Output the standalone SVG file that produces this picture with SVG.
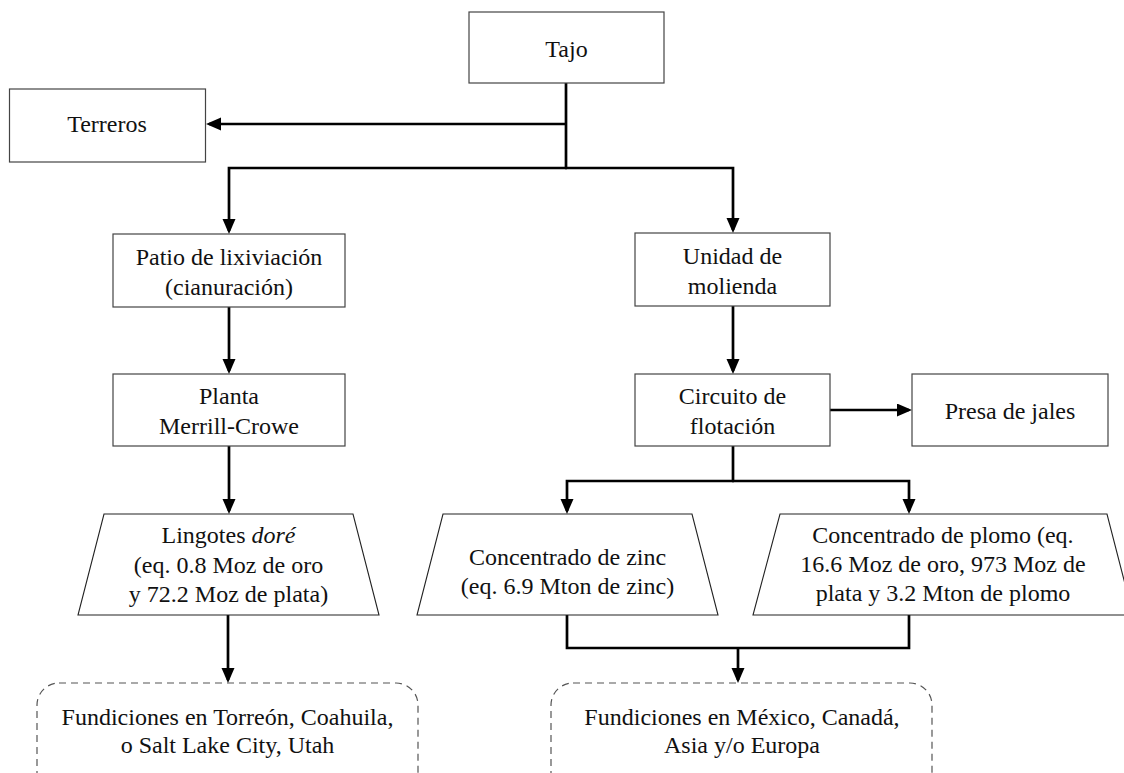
<svg xmlns="http://www.w3.org/2000/svg" width="1124" height="773" viewBox="0 0 1124 773">
<style>
.box{fill:#fff;stroke:#444;stroke-width:1.2}
.trap{fill:#fff;stroke:#222;stroke-width:1.1}
.dash{fill:#fff;stroke:#555;stroke-width:1.2;stroke-dasharray:7 5}
.t{font-family:"Liberation Serif","Times New Roman",serif;font-size:24px;fill:#111;text-anchor:middle}
.c{fill:none;stroke:#000;stroke-width:2.7}
</style>
<defs>
<marker id="ah" markerUnits="userSpaceOnUse" markerWidth="16" markerHeight="14" refX="12" refY="6.5" orient="auto">
<path d="M0,0 L15,6.5 L0,13 z" fill="#000"/>
</marker>
</defs>
<rect width="1124" height="773" fill="#fff"/>
<g id="connectors">
<path class="c" d="M566,83 V168"/>
<path class="c" d="M566,124 H209" marker-end="url(#ah)"/>
<path class="c" d="M567,168 H229 V231" marker-end="url(#ah)"/>
<path class="c" d="M565,168 H733 V230" marker-end="url(#ah)"/>
<path class="c" d="M229,307 V371" marker-end="url(#ah)"/>
<path class="c" d="M229,446 V511" marker-end="url(#ah)"/>
<path class="c" d="M228,615 V680" marker-end="url(#ah)"/>
<path class="c" d="M733,306 V371" marker-end="url(#ah)"/>
<path class="c" d="M830,410 H909" marker-end="url(#ah)"/>
<path class="c" d="M733,446 V481"/>
<path class="c" d="M734,481 H567 V511" marker-end="url(#ah)"/>
<path class="c" d="M732,481 H909 V511" marker-end="url(#ah)"/>
<path class="c" d="M567,615 V648 H909 V615"/>
<path class="c" d="M738,648 V680" marker-end="url(#ah)"/>
</g>
<g id="tajo">
<rect class="box" x="469" y="12" width="195" height="71"/>
<text class="t" x="566.5" y="57">Tajo</text>
</g>
<g id="terreros">
<rect class="box" x="9.5" y="89" width="196" height="73"/>
<text class="t" x="107" y="132">Terreros</text>
</g>
<g id="patio">
<rect class="box" x="113" y="234" width="232" height="73"/>
<text class="t" x="229" y="265">Patio de lixiviación</text>
<text class="t" x="229" y="295">(cianuración)</text>
</g>
<g id="unidad">
<rect class="box" x="635" y="233" width="195" height="73"/>
<text class="t" x="732.5" y="264">Unidad de</text>
<text class="t" x="732.5" y="294">molienda</text>
</g>
<g id="planta">
<rect class="box" x="113" y="374" width="232" height="72"/>
<text class="t" x="229" y="404">Planta</text>
<text class="t" x="229" y="434">Merrill-Crowe</text>
</g>
<g id="circuito">
<rect class="box" x="635" y="374" width="195" height="72"/>
<text class="t" x="732.5" y="404">Circuito de</text>
<text class="t" x="732.5" y="434">flotación</text>
</g>
<g id="presa">
<rect class="box" x="912" y="374" width="196" height="72"/>
<text class="t" x="1010" y="419">Presa de jales</text>
</g>
<g id="lingotes">
<polygon class="trap" points="104,514 353,514 379,615 78,615"/>
<text class="t" x="228.5" y="543">Lingotes <tspan font-style="italic">doré</tspan></text>
<text class="t" x="228.5" y="573">(eq. 0.8 Moz de oro</text>
<text class="t" x="228.5" y="602">y 72.2 Moz de plata)</text>
</g>
<g id="zinc">
<polygon class="trap" points="443,514 692,514 718,615 417,615"/>
<text class="t" x="567.5" y="565">Concentrado de zinc</text>
<text class="t" x="567.5" y="594">(eq. 6.9 Mton de zinc)</text>
</g>
<g id="plomo">
<polygon class="trap" points="780,514 1107,514 1133,615 753,615"/>
<text class="t" x="943" y="543">Concentrado de plomo (eq.</text>
<text class="t" x="943" y="572">16.6 Moz de oro, 973 Moz de</text>
<text class="t" x="943" y="601">plata y 3.2 Mton de plomo</text>
</g>
<g id="fund1">
<rect class="dash" x="37" y="683" width="381" height="112" rx="22" ry="22"/>
<text class="t" x="227.5" y="725">Fundiciones en Torreón, Coahuila,</text>
<text class="t" x="227.5" y="753">o Salt Lake City, Utah</text>
</g>
<g id="fund2">
<rect class="dash" x="551" y="683" width="381" height="112" rx="22" ry="22"/>
<text class="t" x="742" y="725">Fundiciones en México, Canadá,</text>
<text class="t" x="742" y="753">Asia y/o Europa</text>
</g>
</svg>
